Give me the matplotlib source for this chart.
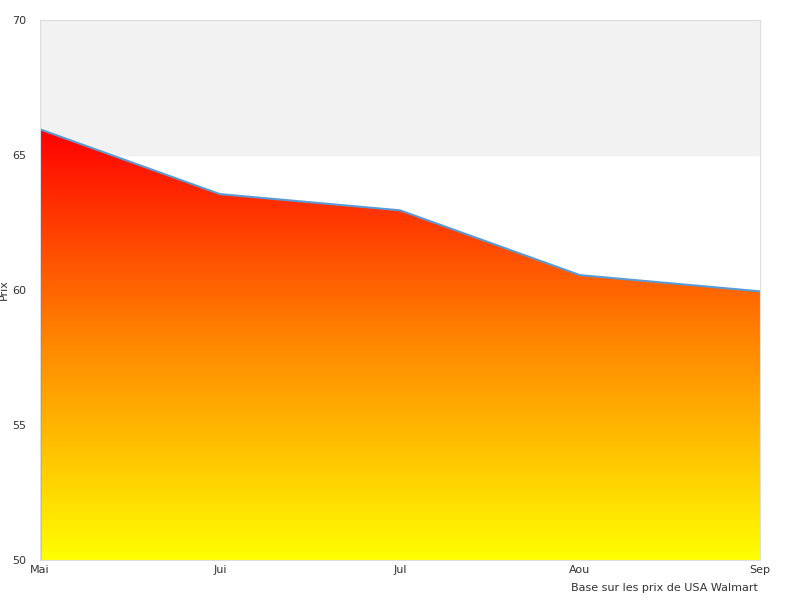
import matplotlib
matplotlib.use("Agg")
import matplotlib.pyplot as plt
import numpy as np
from matplotlib.colors import LinearSegmentedColormap
from matplotlib.patches import Polygon

months = ["Mai", "Jui", "Jul", "Aou", "Sep"]
prices = [65.95, 63.55, 62.95, 60.55, 59.95]
y_min, y_max = 50, 70

fig = plt.figure(figsize=(8, 6), dpi=100)
ax = fig.add_axes([0.05, 0.0667, 0.9, 0.9])
x = np.arange(len(months))

ax.set_xlim(x[0], x[-1])
ax.set_ylim(y_min, y_max)

# grey band on top
ax.axhspan(65, 70, color="#f2f2f2", zorder=0)

# gradient fill clipped to the area under the line
cmap = LinearSegmentedColormap.from_list("ry", ["#ffff00", "#ff8800", "#ff0000"])
top = max(prices)
grad = np.linspace(0, 1, 256).reshape(-1, 1)
im = ax.imshow(grad, cmap=cmap, origin="lower", aspect="auto",
               extent=[x[0], x[-1], y_min, top], zorder=1)
verts = [(x[0], y_min)] + list(zip(x, prices)) + [(x[-1], y_min)]
poly = Polygon(verts, closed=True, facecolor="none", edgecolor="none")
ax.add_patch(poly)
im.set_clip_path(poly)

ax.plot(x, prices, color="#5b9bd5", linewidth=1.5, zorder=2)
ax.plot([x[0], x[0]], [y_min, prices[0]], color="#555555", linewidth=1, zorder=2)

ax.set_xticks(x)
ax.set_xticklabels(months)
ax.set_yticks([50, 55, 60, 65, 70])
ax.tick_params(length=0, labelsize=8, colors="#333333")
ax.tick_params(axis="y", pad=10)
for s in ax.spines.values():
    s.set_color("#dddddd")
ax.set_ylabel("Prix", fontsize=8, color="#333333")
ax.yaxis.set_label_coords(-0.043, 0.5)
fig.text(0.9475, 0.015, "Base sur les prix de USA Walmart", ha="right",
         fontsize=8, color="#333333")

fig.savefig("out.png", dpi=100)
